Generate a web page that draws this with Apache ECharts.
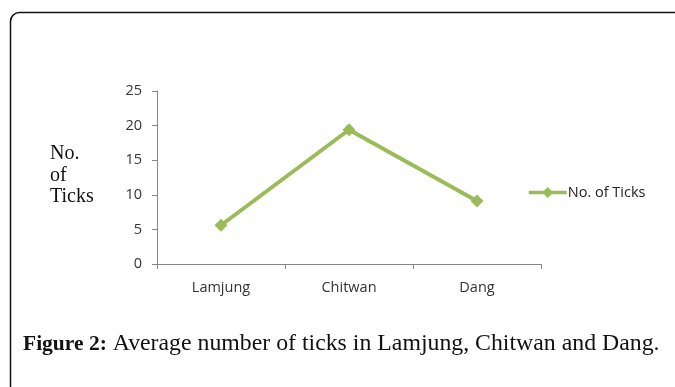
<!DOCTYPE html>
<html>
<head>
<meta charset="utf-8">
<script src="https://cdn.jsdelivr.net/npm/echarts@6/dist/echarts.min.js"></script>
<style>
  html, body { margin: 0; padding: 0; background: #fff; }
  #chart { width: 675px; height: 387px; }
</style>
</head>
<body>
<div id="chart"></div>
<script>
// Districts and average tick counts
const districts = ['Lamjung', 'Chitwan', 'Dang'];
const avgTicks = [5.6, 19.4, 9.1];
const yTicks = [0, 5, 10, 15, 20, 25];
const seriesName = 'No. of Ticks';

const green = '#9BBB59';
const axisGray = '#868686';
const labelGray = '#333333';

const chart = echarts.init(document.getElementById('chart'), null, { renderer: 'canvas' });

chart.setOption({
  animation: false,
  backgroundColor: '#fff',
  grid: { left: 157, top: 91, right: 134, bottom: 123 },
  xAxis: {
    type: 'category',
    data: districts,
    boundaryGap: true,
    axisLine: { lineStyle: { color: axisGray, width: 1 } },
    axisTick: { show: true, length: 5, lineStyle: { color: axisGray } },
    axisLabel: { color: labelGray, fontFamily: 'Open Sans', fontSize: 14.5, margin: 16 }
  },
  yAxis: {
    type: 'value',
    min: yTicks[0],
    max: yTicks[yTicks.length - 1],
    interval: 5,
    splitLine: { show: false },
    axisLine: { show: true, lineStyle: { color: axisGray, width: 1 } },
    axisTick: { show: true, length: 5, lineStyle: { color: axisGray } },
    axisLabel: { color: labelGray, fontFamily: 'Open Sans', fontSize: 14.5, margin: 15 }
  },
  legend: {
    data: [seriesName],
    left: 522,
    top: 180,
    itemWidth: 38,
    itemHeight: 14,
    itemGap: 2,
    lineStyle: { width: 3.5 },
    textStyle: { color: '#222', fontFamily: 'Open Sans', fontSize: 14.5, padding: [0, 0, 0, -4] }
  },
  series: [{
    name: seriesName,
    type: 'line',
    data: avgTicks,
    symbol: 'diamond',
    symbolSize: 13,
    lineStyle: { color: green, width: 4 },
    itemStyle: { color: green }
  }],
  graphic: [
    {
      type: 'rect',
      shape: { x: 10.5, y: 12.5, width: 720, height: 420, r: [9, 0, 0, 0] },
      style: { fill: 'none', stroke: '#111', lineWidth: 1.5 },
      silent: true
    },
    {
      type: 'text',
      left: 50,
      top: 143,
      style: {
        text: 'No.\nof\nTicks',
        fill: '#111',
        font: '20px "Liberation Serif"',
        lineHeight: 21.5
      }
    },
    {
      type: 'text',
      left: 23,
      top: 332,
      style: {
        text: '{b|Figure 2:} Average number of ticks in Lamjung, Chitwan and Dang.',
        fill: '#111',
        font: '23.8px "Liberation Serif"',
        rich: {
          b: { fontWeight: 'bold', fontFamily: 'Liberation Serif', fontSize: 21.5, fill: '#111' }
        }
      }
    }
  ]
});
</script>
</body>
</html>
